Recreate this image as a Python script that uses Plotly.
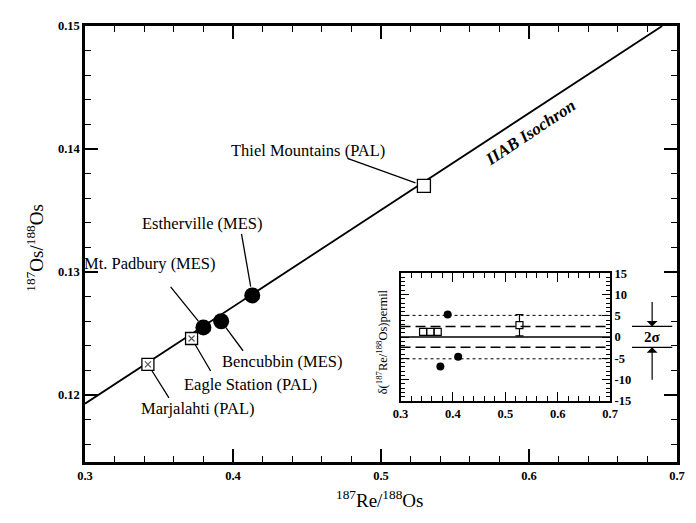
import plotly.graph_objects as go

# ---------------- data ----------------
x_ticks = [0.3, 0.4, 0.5, 0.6, 0.7]
x_ticktext = ["0.3", "0.4", "0.5", "0.6", "0.7"]
y_ticks = [0.12, 0.13, 0.14, 0.15]
y_ticktext = ["0.12", "0.13", "0.14", "0.15"]

# isochron end points
iso_x = [0.3, 0.690]
iso_y = [0.1193, 0.1500]

# meteorites
mes_names = ["Mt. Padbury (MES)", "Bencubbin (MES)", "Estherville (MES)"]
mes_x = [0.380, 0.392, 0.413]
mes_y = [0.1255, 0.1260, 0.1281]

pal_names = ["Marjalahti (PAL)", "Eagle Station (PAL)"]
pal_x = [0.3425, 0.372]
pal_y = [0.1225, 0.1246]

thiel_name = "Thiel Mountains (PAL)"
thiel_x = [0.529]
thiel_y = [0.1370]

# inset deviations (permil)
ins_mes_x = [0.376, 0.390, 0.410]
ins_mes_y = [-6.9, 5.3, -4.6]
ins_pal_x = [0.343, 0.357, 0.371]
ins_pal_y = [1.2, 1.2, 1.2]
ins_thiel_x = [0.527]
ins_thiel_y = [2.8]
ins_thiel_err = [2.5]
ref_solid = 0.0
ref_dashed = [2.5, -2.4]
ref_dotted = [5.1, -5.1]
ins_yticks = [15, 10, 5, 0, -5, -10, -15]
ins_yticktext = ["15", "10", "5", "0", "-5", "-10", "-15"]

SERIF = "'Times New Roman', 'Liberation Serif', 'DejaVu Serif', serif"

fig = go.Figure()

# isochron
fig.add_trace(go.Scatter(x=iso_x, y=iso_y, mode="lines",
                         line=dict(color="black", width=1.8), hoverinfo="skip"))
# PAL squares (speckled)
fig.add_trace(go.Scatter(x=pal_x, y=pal_y, mode="markers",
                         marker=dict(symbol="square", size=12, color="white",
                                     line=dict(color="black", width=1.3))))
fig.add_trace(go.Scatter(x=pal_x, y=pal_y, mode="markers",
                         marker=dict(symbol="x-thin", size=6, color="#555",
                                     line=dict(color="#555", width=1.2))))
# Thiel
fig.add_trace(go.Scatter(x=thiel_x, y=thiel_y, mode="markers",
                         marker=dict(symbol="square", size=13, color="white",
                                     line=dict(color="black", width=1.3))))
# MES circles
fig.add_trace(go.Scatter(x=mes_x, y=mes_y, mode="markers",
                         marker=dict(symbol="circle", size=16, color="black")))

# ---- inset ----
fig.add_trace(go.Scatter(x=ins_mes_x, y=ins_mes_y, mode="markers", xaxis="x2", yaxis="y2",
                         marker=dict(symbol="circle", size=8, color="black")))
fig.add_trace(go.Scatter(x=ins_pal_x, y=ins_pal_y, mode="markers", xaxis="x2", yaxis="y2",
                         marker=dict(symbol="square", size=7, color="white",
                                     line=dict(color="black", width=1.2))))
fig.add_trace(go.Scatter(x=ins_thiel_x, y=ins_thiel_y, mode="markers", xaxis="x2", yaxis="y2",
                         error_y=dict(type="data", array=ins_thiel_err, color="black",
                                      thickness=1.2, width=4),
                         marker=dict(symbol="square", size=7, color="white",
                                     line=dict(color="black", width=1.2))))

shapes = []
shapes.append(dict(type="line", xref="x2 domain", yref="y2", x0=0, x1=1,
                   y0=ref_solid, y1=ref_solid, line=dict(color="black", width=1.5)))
for v in ref_dashed:
    shapes.append(dict(type="line", xref="x2 domain", yref="y2", x0=0, x1=1,
                       y0=v, y1=v, line=dict(color="black", width=1.5, dash="10px,5px")))
for v in ref_dotted:
    shapes.append(dict(type="line", xref="x2 domain", yref="y2", x0=0, x1=1,
                       y0=v, y1=v, line=dict(color="black", width=1, dash="dot")))
# 2 sigma bracket
for v in ref_dashed:
    shapes.append(dict(type="line", xref="paper", yref="y2", x0=0.924, x1=0.992,
                       y0=v, y1=v, line=dict(color="black", width=1.2)))
fig.update_layout(shapes=shapes)

ann = []
lab_font = dict(family=SERIF, size=16.5, color="black")
label_pos = {
    "Thiel Mountains (PAL)": (0.4504, 0.13984),
    "Estherville (MES)": (0.3796, 0.13392),
    "Mt. Padbury (MES)": (0.3438, 0.13072),
    "Bencubbin (MES)": (0.4336, 0.12272),
    "Eagle Station (PAL)": (0.4120, 0.12088),
    "Marjalahti (PAL)": (0.3762, 0.11888),
}
for name, (lx, ly) in label_pos.items():
    ann.append(dict(x=lx, y=ly, xref="x", yref="y", text=name, showarrow=False, font=lab_font,
                    xanchor="center", yanchor="middle"))

leaders = [
    (thiel_x[0], thiel_y[0], -78, -28, 9),
    (mes_x[2], mes_y[2], -11, -63, 9),
    (mes_x[0], mes_y[0], -34, -42, 8),
    (mes_x[1], mes_y[1], 23, 31, 8),
    (pal_x[1], pal_y[1], 20, 34, 7),
    (pal_x[0], pal_y[0], 22, 35, 7),
]
for (px, py, ax, ay, so) in leaders:
    ann.append(dict(x=px, y=py, xref="x", yref="y", text="", showarrow=True,
                    ax=ax, ay=ay, axref="pixel", ayref="pixel", arrowhead=0,
                    arrowwidth=1.3, arrowcolor="black", standoff=so))

ann.append(dict(x=0.601, y=0.14136, xref="x", yref="y", text="<b><i>IIAB Isochron</i></b>",
                xanchor="center", yanchor="middle",
                showarrow=False, textangle=-33.6, font=dict(family=SERIF, size=17, color="black")))

# axis titles
ann.append(dict(x=-0.084, y=0.49, xref="paper", yref="paper", showarrow=False, textangle=-90,
                xanchor="center", yanchor="middle",
                text="<sup>187</sup>Os/<sup>188</sup>Os", font=dict(family=SERIF, size=19, color="black")))
ann.append(dict(x=0.497, y=-0.086, xref="paper", yref="paper", showarrow=False,
                xanchor="center", yanchor="middle",
                text="<sup>187</sup>Re/<sup>188</sup>Os", font=dict(family=SERIF, size=19, color="black")))
# inset title
ann.append(dict(x=0.502, y=0.275, xref="paper", yref="paper", showarrow=False, textangle=-90,
                xanchor="center", yanchor="middle",
                text="δ(<sup>187</sup>Re/<sup>188</sup>Os)permil", font=dict(family=SERIF, size=12.5, color="black")))
# 2 sigma
ann.append(dict(x=0.958, y=(ref_dashed[0] + ref_dashed[1]) / 2, xref="paper", yref="y2", showarrow=False,
                xanchor="center", yanchor="middle",
                text="<b>2σ</b>", font=dict(family=SERIF, size=15, color="black")))
ann.append(dict(x=0.958, y=ref_dashed[0], xref="paper", yref="y2", text="", showarrow=True,
                ax=0, ay=-26, arrowhead=1, arrowsize=1.5, arrowwidth=1.2, arrowcolor="black"))
ann.append(dict(x=0.958, y=ref_dashed[1], xref="paper", yref="y2", text="", showarrow=True,
                ax=0, ay=34, arrowhead=1, arrowsize=1.5, arrowwidth=1.2, arrowcolor="black"))
fig.update_layout(annotations=ann)

tickf = dict(family=SERIF, size=12.5, color="black", weight="bold")
fig.update_layout(
    width=688, height=515, showlegend=False,
    margin=dict(l=77, r=18, t=11, b=61),
    font=dict(family=SERIF, color="black"),
    paper_bgcolor="white", plot_bgcolor="white",
    xaxis=dict(range=[0.3, 0.7], domain=[0, 1], tickvals=x_ticks, ticktext=x_ticktext,
               ticks="inside", ticklen=13, tickwidth=1.5, tickcolor="black",
               minor=dict(ticks="inside", ticklen=6, dtick=0.02, tick0=0.3, tickwidth=1.2, tickcolor="black"),
               showline=True, linewidth=2.5, linecolor="black", mirror="allticks",
               showgrid=False, zeroline=False, tickfont=tickf),
    yaxis=dict(range=[0.11456, 0.15], domain=[0, 1], tickvals=y_ticks, ticktext=y_ticktext,
               ticks="inside", ticklen=13, tickwidth=1.5, tickcolor="black",
               minor=dict(ticks="inside", ticklen=6, dtick=0.002, tick0=0.12, tickwidth=1.2, tickcolor="black"),
               showline=True, linewidth=2.5, linecolor="black", mirror="allticks",
               showgrid=False, zeroline=False, tickfont=tickf),
    xaxis2=dict(domain=[0.533, 0.887], anchor="y2", range=[0.3, 0.7], tickvals=x_ticks, ticktext=x_ticktext,
                ticks="inside", ticklen=9, tickwidth=1.2, tickcolor="black",
                minor=dict(ticks="inside", ticklen=5, dtick=0.02, tick0=0.3, tickwidth=1, tickcolor="black"),
                showline=True, linewidth=2, linecolor="black", mirror="allticks",
                showgrid=False, zeroline=False, tickfont=tickf),
    yaxis2=dict(domain=[0.140, 0.433], anchor="x2", side="right", range=[-15, 15],
                tickvals=ins_yticks, ticktext=ins_yticktext,
                ticks="inside", ticklen=8, tickwidth=1.2, tickcolor="black",
                minor=dict(ticks="inside", ticklen=4, dtick=1, tick0=0, tickwidth=1, tickcolor="black"),
                showline=True, linewidth=2, linecolor="black", mirror="allticks",
                showgrid=False, zeroline=False, tickfont=tickf),
)

fig.write_html("out.html")
